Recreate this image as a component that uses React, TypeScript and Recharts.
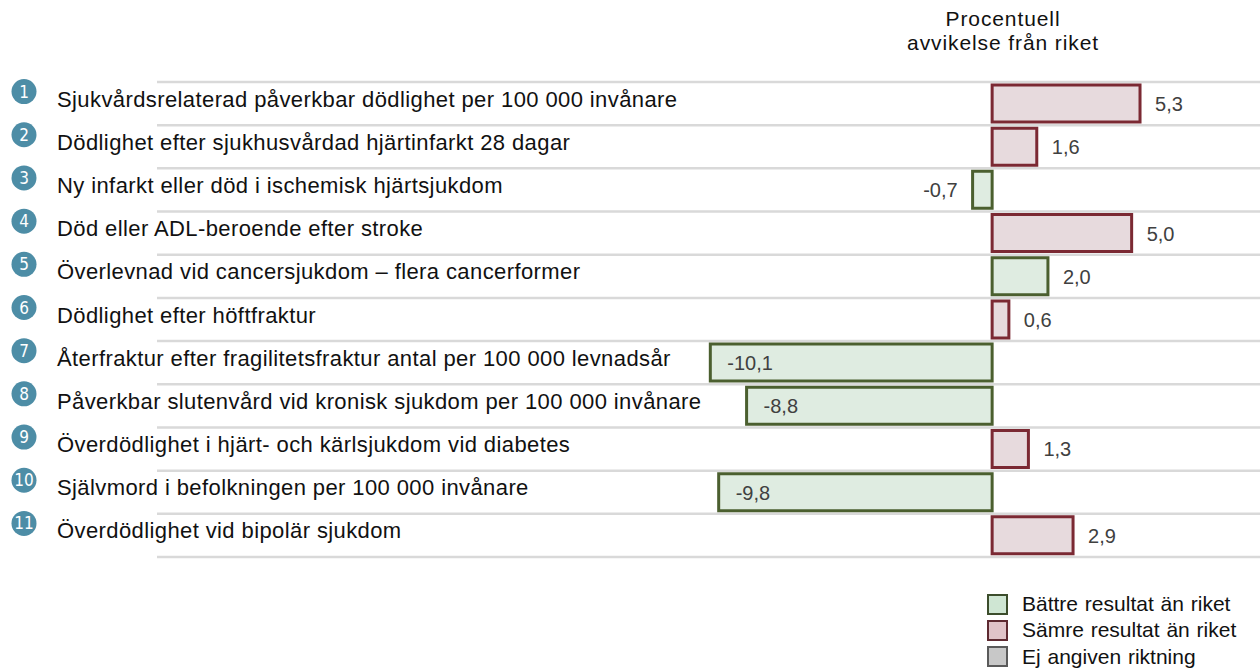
import {
    BarChart,
    Bar,
    Cell,
    XAxis,
    YAxis,
    CartesianGrid,
    LabelList,
} from 'recharts'

const indicators = [
    'Sjukvårdsrelaterad påverkbar dödlighet per 100 000 invånare',
    'Dödlighet efter sjukhusvårdad hjärtinfarkt 28 dagar',
    'Ny infarkt eller död i ischemisk hjärtsjukdom',
    'Död eller ADL-beroende efter stroke',
    'Överlevnad vid cancersjukdom – flera cancerformer',
    'Dödlighet efter höftfraktur',
    'Återfraktur efter fragilitetsfraktur antal per 100 000 levnadsår',
    'Påverkbar slutenvård vid kronisk sjukdom per 100 000 invånare',
    'Överdödlighet i hjärt- och kärlsjukdom vid diabetes',
    'Självmord i befolkningen per 100 000 invånare',
    'Överdödlighet vid bipolär sjukdom',
]

const deviation = [5.3, 1.6, -0.7, 5.0, 2.0, 0.6, -10.1, -8.8, 1.3, -9.8, 2.9]

const outcome = [
    'worse',
    'worse',
    'better',
    'worse',
    'better',
    'worse',
    'better',
    'better',
    'worse',
    'better',
    'worse',
]

const legendItems = [
    { label: 'Bättre resultat än riket', fill: '#cfe6d3', stroke: '#3c4d2c' },
    { label: 'Sämre resultat än riket', fill: '#e0c3c8', stroke: '#5e2a31' },
    { label: 'Ej angiven riktning', fill: '#c8c8c8', stroke: '#5a5a5a' },
]

const colors = {
    better: { fill: '#dfece1', stroke: '#4b5f2f' },
    worse: { fill: '#e7dadd', stroke: '#7b2933' },
}

const data = indicators.map((name, i) => ({
    name,
    num: i + 1,
    value: deviation[i],
    outcome: outcome[i],
}))

const FONT = '"Liberation Sans", Arial, sans-serif'

// separator lines on the borders between rows
function rowBorders({ offset }: any) {
    const step = offset.height / indicators.length
    return Array.from({ length: indicators.length + 1 }, (_, k) => offset.top + k * step)
}

function RowTick(props: any) {
    const { y, payload } = props
    const idx = indicators.indexOf(payload.value)
    return (
        <g>
            <circle cx={24} cy={y - 12} r={12.5} fill='#4d8da6' />
            <text
                x={24}
                y={y - 6}
                textAnchor='middle'
                fill='#fff'
                fontSize={17}
                fontFamily='"Liberation Sans Narrow", "DejaVu Sans Condensed", sans-serif'
            >
                {idx + 1}
            </text>
            <text
                x={57}
                y={y + 3}
                textAnchor='start'
                fill='#111'
                fontSize={22}
                letterSpacing={0.4}
                fontFamily={FONT}
            >
                {payload.value}
            </text>
        </g>
    )
}

function ValueLabel(props: any) {
    const { x, y, width, height, value } = props
    const left = Math.min(x, x + width)
    const right = Math.max(x, x + width)
    const cy = y + height / 2 + 7.5
    const txt = Number(value).toFixed(1).replace('.', ',')
    let tx = right + 15
    let anchor = 'start'
    if (value < 0) {
        if (value < -5) {
            tx = left + 17
            anchor = 'start'
        } else {
            tx = left - 15
            anchor = 'end'
        }
    }
    return (
        <text
            x={tx}
            y={cy}
            textAnchor={anchor}
            fill='#404040'
            fontSize={20}
            fontFamily={FONT}
        >
            {txt}
        </text>
    )
}

function LegendBox() {
    return (
        <div
            style={{
                position: 'absolute',
                left: 987,
                top: 591,
                fontFamily: FONT,
                fontSize: 21,
                color: '#111',
            }}
        >
            {legendItems.map((item) => (
                <div
                    key={item.label}
                    style={{ display: 'flex', alignItems: 'center', height: 26.3 }}
                >
                    <span
                        style={{
                            display: 'inline-block',
                            width: 17,
                            height: 17,
                            background: item.fill,
                            border: `2px solid ${item.stroke}`,
                            marginRight: 14,
                        }}
                    />
                    <span style={{ wordSpacing: 1, whiteSpace: 'nowrap' }}>{item.label}</span>
                </div>
            ))}
        </div>
    )
}

export default function App() {
    return (
        <div
            style={{
                position: 'absolute',
                left: 0,
                top: 0,
                width: 1260,
                height: 669,
                background: '#fff',
                fontFamily: FONT,
            }}
        >
            <div
                style={{
                    position: 'absolute',
                    left: 853,
                    top: 7,
                    width: 300,
                    textAlign: 'center',
                    fontSize: 21,
                    letterSpacing: 0.9,
                    lineHeight: '24px',
                    color: '#111',
                }}
            >
                Procentuell
                <br />
                avvikelse från riket
            </div>
            <BarChart
                width={1260}
                height={669}
                data={data}
                layout='vertical'
                barSize={37}
                margin={{ top: 82, right: 0, left: 0, bottom: 112 }}
            >
                <CartesianGrid
                    horizontal
                    vertical={false}
                    horizontalCoordinatesGenerator={rowBorders}
                    stroke='#d9d9d9'
                    strokeWidth={2.5}
                />
                <XAxis
                    type='number'
                    domain={[-29.93, 9.6]}
                    allowDataOverflow
                    hide
                />
                <YAxis
                    type='category'
                    dataKey='name'
                    width={157}
                    axisLine={false}
                    tickLine={false}
                    tick={<RowTick />}
                    interval={0}
                />
                <Bar dataKey='value' isAnimationActive={false} strokeWidth={3}>
                    {data.map((d, i) => (
                        <Cell
                            key={i}
                            fill={colors[d.outcome as 'better' | 'worse'].fill}
                            stroke={colors[d.outcome as 'better' | 'worse'].stroke}
                        />
                    ))}
                    <LabelList dataKey='value' content={<ValueLabel />} />
                </Bar>
            </BarChart>
            <LegendBox />
        </div>
    )
}
